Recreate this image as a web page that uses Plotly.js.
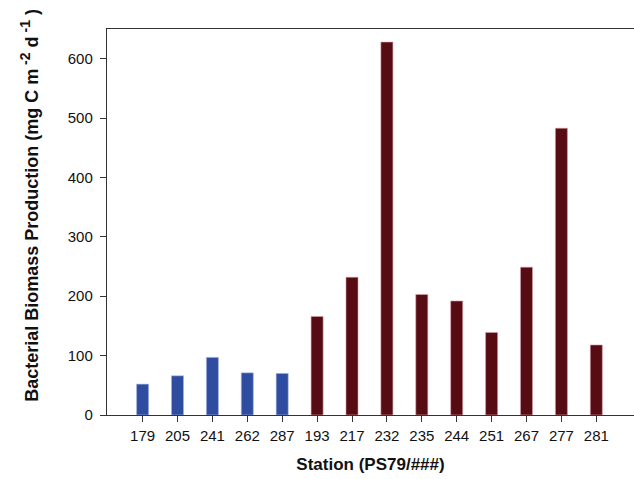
<!DOCTYPE html>
<html><head><meta charset="utf-8">
<script src="https://cdn.plot.ly/plotly-3.0.1.min.js"></script>
<style>html,body{margin:0;padding:0;background:#fff}</style>
</head><body>
<div id="chart" style="width:634px;height:479px"></div>
<script>
const stations = ["179","205","241","262","287","193","217","232","235","244","251","267","277","281"];
const groupA = ["179","205","241","262","287"];
const valuesA = [52, 66, 97, 71, 70];
const groupB = ["193","217","232","235","244","251","267","277","281"];
const valuesB = [166, 232, 628, 203, 192, 139, 249, 483, 118];
const yTicks = [0, 100, 200, 300, 400, 500, 600];
const xTitle = 'Station (PS79/###)';
const yTitle = 'Bacterial Biomass Production (mg C m<sup><span style="font-size:14px"> -2</span></sup> d<sup><span style="font-size:14px"> -1</span></sup> )';

const traces = [
  {type:'bar', x: groupA, y: valuesA, width: 0.345,
   marker:{color:'#2E4DA0', line:{color:'#a9b4e0', width:0.6}}},
  {type:'bar', x: groupB, y: valuesB, width: 0.345,
   marker:{color:'#560C12', line:{color:'#d9a3aa', width:0.6}}}
];
const layout = {
  width:634, height:479,
  margin:{l:107, r:0, t:29, b:64},
  showlegend:false,
  paper_bgcolor:'#fff', plot_bgcolor:'#fff',
  font:{family:'Liberation Sans, Arial, sans-serif', color:'#111', size:15},
  xaxis:{type:'category', categoryorder:'array', categoryarray: stations,
    range:[-1.02, 14.08], showline:true, linecolor:'#333', linewidth:1.2, mirror:true,
    ticks:'outside', ticklen:6, tickcolor:'#333', showgrid:false, zeroline:false,
    tickfont:{size:15}, ticklabelstandoff:1,
    title:{text: xTitle, font:{size:17, weight:'bold'}, standoff:14}},
  yaxis:{range:[0,650], tickvals: yTicks,
    showline:true, linecolor:'#333', linewidth:1.2,
    ticks:'outside', ticklen:6, tickcolor:'#333', showgrid:false, zeroline:false,
    tickfont:{size:15}, ticklabelstandoff:4},
  annotations:[{text: yTitle, textangle:-90, xref:'paper', yref:'paper',
    x:-0.146, y:0.542, xanchor:'center', yanchor:'middle', showarrow:false,
    font:{size:18, weight:'bold', color:'#111'}}],
  bargap:0
};
Plotly.newPlot('chart', traces, layout, {displayModeBar:false, staticPlot:true});
</script>
</body></html>
